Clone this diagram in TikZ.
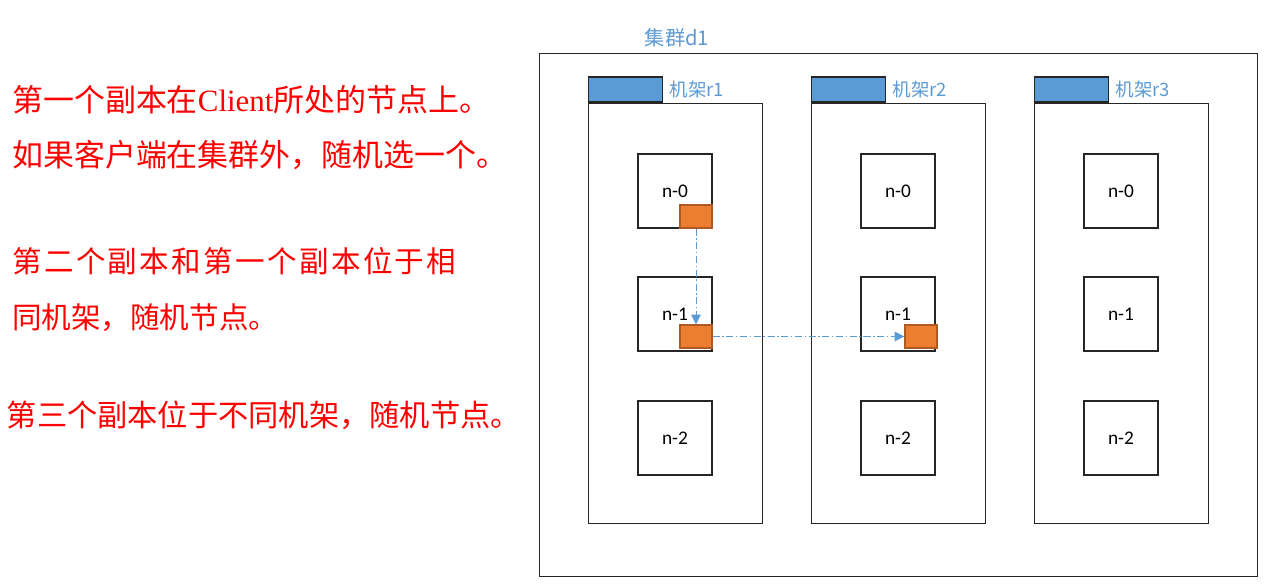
\documentclass[tikz,border=0pt]{standalone}
\usepackage{fontspec}
\setmainfont{Carlito}
\newfontfamily\cjk{Noto Sans CJK SC}
\newfontfamily\serifen{Liberation Serif}
\usetikzlibrary{positioning,arrows.meta}
\definecolor{rackblue}{HTML}{5B9BD5}
\definecolor{replicaorange}{HTML}{ED7D31}
\definecolor{replicaedge}{HTML}{AE5A21}
\tikzset{
    note/.style={text=red, align=left, inner sep=0pt, anchor=west,
        font=\cjk\fontsize{16.8}{31.5}\selectfont},
    boxline/.style={draw=black!85, line width=0.8pt},
    rack/.style={boxline, minimum width=3.48cm, minimum height=8.4cm, inner sep=0pt},
    tab/.style={boxline, fill=rackblue, minimum width=1.48cm, minimum height=0.5cm, inner sep=0pt},
    tag/.style={text=rackblue, inner sep=0pt, font=\cjk\fontsize{10.5}{12}\selectfont},
    host/.style={boxline, fill=white, minimum size=1.48cm, inner sep=0pt, font=\fontsize{11}{13}\selectfont},
    replica/.style={draw=replicaedge, line width=0.8pt, fill=replicaorange,
        minimum width=0.64cm, minimum height=0.46cm, inner sep=0pt},
    flow/.style={draw=rackblue, line width=0.5pt, dash pattern=on 4pt off 1.5pt on 0.8pt off 1.5pt,
        -{Triangle[length=5.5pt, width=5.5pt]}}
}
\begin{document}
\begin{tikzpicture}
    \useasboundingbox (0, 0) rectangle (25.4, 11.76);

    % ===== placement rules (left side) =====
    \node[note, font=\cjk\fontsize{17.6}{31.5}\selectfont] (note1) at (0.24, 9.21) {第一个副本在{\serifen Client}所处的节点上。\\如果客户端在集群外，随机选一个。};
    \node[note] (note2) at (0.24, 5.97) {{\addfontfeature{LetterSpace=8}第二个副本和第一个副本位于相}\\同机架，随机节点。};
    \node[note, font=\cjk\fontsize{17.2}{31.5}\selectfont] (note3) at (0.13, 3.46) {第三个副本位于不同机架，随机节点。};

    % ===== cluster d1 (right side) =====
    \node[boxline, minimum width=14.36cm, minimum height=10.46cm, inner sep=0pt, anchor=south west] (cluster) at (10.78, 0.22) {};
    \node[tag, font=\cjk\fontsize{11.5}{13}\selectfont] (clustertag) at (13.54, 11.0) {集群d1};

    % racks with their nodes
    \foreach \i/\x in {1/11.76, 2/16.22, 3/20.68} {
        \node[rack, anchor=south west] (rack\i) at (\x, 1.28) {};
        \node[tab, anchor=south west] (tab\i) at (rack\i.north west) {};
        \node[tag, anchor=west, right=0.12cm of tab\i] (rtag\i) {机架r\i};
        \foreach \j/\y in {0/7.94, 1/5.48, 2/3.0} {
            \node[host] (n\i-\j) at (\x+1.74, \y) {n-\j};
        }
    }

    % replicas
    \node[replica, anchor=south east] (rep1-0) at (n1-0.south east) {};
    \node[replica, anchor=south east] (rep1-1) at ([yshift=0.06cm]n1-1.south east) {};
    \node[replica, anchor=south east] (rep2-1) at ([xshift=0.04cm, yshift=0.06cm]n2-1.south east) {};

    % copy path
    \draw[flow] (rep1-0.south) -- (rep1-1.north);
    \draw[flow] (rep1-1.east) -- (rep2-1.west);
\end{tikzpicture}
\end{document}
